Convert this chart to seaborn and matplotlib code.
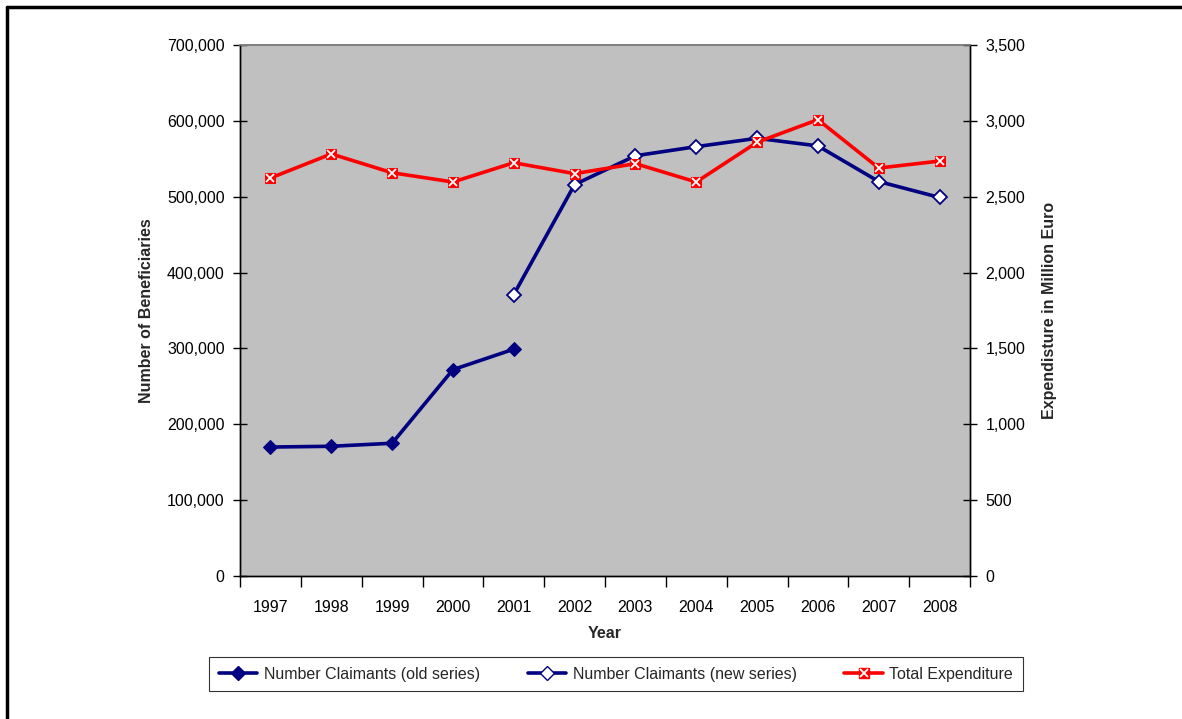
import matplotlib
matplotlib.use('Agg')
import matplotlib.pyplot as plt
from matplotlib.lines import Line2D
from matplotlib.ticker import FuncFormatter, FixedLocator
import seaborn as sns

years = ['1997', '1998', '1999', '2000', '2001', '2002',
         '2003', '2004', '2005', '2006', '2007', '2008']
old_series = [170000, 171000, 175000, 272000, 299000]
new_series = [371000, 516000, 554000, 566000, 577000, 567000, 520000, 499000]
expenditure = [2623, 2782, 2658, 2597, 2724, 2652, 2718, 2597, 2859, 3008, 2689, 2735]

sns.set_theme(style='white')
plt.rcParams['font.family'] = ['Liberation Sans Narrow', 'Liberation Sans', 'DejaVu Sans']
fs = 11.5

navy = '#000080'
red = '#ff0000'

fig = plt.figure(figsize=(11.82, 7.19), dpi=100)
ax = fig.add_axes([240 / 1182, 1 - 576 / 719, 730 / 1182, 531 / 719])
ax.set_facecolor('#c0c0c0')

pos = list(range(len(years)))
old_x = pos[:5]
new_x = pos[4:]

sns.lineplot(x=old_x, y=old_series, ax=ax, color=navy, lw=2.6, marker='D',
             markersize=7, markerfacecolor=navy, markeredgecolor=navy)
sns.lineplot(x=new_x, y=new_series, ax=ax, color=navy, lw=2.6, marker='D',
             markersize=7, markerfacecolor='white', markeredgecolor=navy,
             markeredgewidth=1.3)

ax.set_xlim(-0.5, 11.5)
ax.set_ylim(0, 700000)
ax.set_yticks(range(0, 700001, 100000))
ax.yaxis.set_major_formatter(FuncFormatter(lambda v, p: f'{int(v):,}'))
ax.set_xticks(pos)
ax.set_xticklabels(years)
ax.xaxis.set_minor_locator(FixedLocator([i - 0.5 for i in range(13)]))
ax.tick_params(axis='x', which='major', length=0, pad=17, labelsize=fs, colors='black')
ax.tick_params(axis='x', which='minor', length=8, width=1, direction='out', color='black', bottom=True)
ax.tick_params(axis='y', length=10, width=1, direction='inout', colors='black', left=True, labelsize=fs, pad=6)
ax.set_xlabel('Year', fontweight='bold', fontsize=fs, labelpad=8)
ax.set_ylabel('Number of Beneficiaries', fontweight='bold', fontsize=fs, labelpad=9)

ax2 = ax.twinx()
sns.lineplot(x=pos, y=expenditure, ax=ax2, color=red, lw=2.6, marker='s',
             markersize=7.5, markerfacecolor=red, markeredgecolor=red)
ax2.plot(pos, expenditure, ls='none', marker='x', markersize=5.5,
         markeredgecolor='white', markeredgewidth=1.3)
ax2.set_ylim(0, 3500)
ax2.set_yticks(range(0, 3501, 500))
ax2.yaxis.set_major_formatter(FuncFormatter(lambda v, p: f'{int(v):,}'))
ax2.tick_params(axis='y', length=10, width=1, direction='inout', colors='black', right=True, labelsize=fs, pad=6)
ax2.set_ylabel('Expendisture in Million Euro', fontweight='bold', fontsize=fs, labelpad=12)
ax2.grid(False)
ax.grid(False)

for a in (ax, ax2):
    for side in ('left', 'right', 'bottom'):
        a.spines[side].set_color('black')
        a.spines[side].set_linewidth(1)
    a.spines['top'].set_color('#808080')
    a.spines['top'].set_linewidth(1.2)

handles = [
    Line2D([], [], color=navy, lw=2.6, marker='D', markersize=7,
           markerfacecolor=navy, markeredgecolor=navy),
    Line2D([], [], color=navy, lw=2.6, marker='D', markersize=7,
           markerfacecolor='white', markeredgecolor=navy),
    (Line2D([], [], color=red, lw=2.6, marker='s', markersize=7.5,
            markerfacecolor=red, markeredgecolor=red),
     Line2D([], [], ls='none', marker='x', markersize=5.5,
            markeredgecolor='white', markeredgewidth=1.3)),
]
labels = ['Number Claimants (old series)', 'Number Claimants (new series)', 'Total Expenditure']
leg = fig.legend(handles, labels, loc='center', bbox_to_anchor=(616 / 1182, 1 - 674 / 719),
                 ncol=3, frameon=True, fancybox=False, edgecolor='black',
                 fontsize=fs, handlelength=2.4, handletextpad=0.4,
                 columnspacing=3.0, borderpad=0.6)
leg.get_frame().set_linewidth(0.8)

# outer frame (left and top edges visible)
fig.add_artist(Line2D([7 / 1182, 7 / 1182], [0, 1 - 7 / 719], color='black', lw=2.5,
                      transform=fig.transFigure))
fig.add_artist(Line2D([7 / 1182, 1], [1 - 7 / 719, 1 - 7 / 719], color='black', lw=2.5,
                      transform=fig.transFigure))

fig.savefig('out.png', dpi=100)
